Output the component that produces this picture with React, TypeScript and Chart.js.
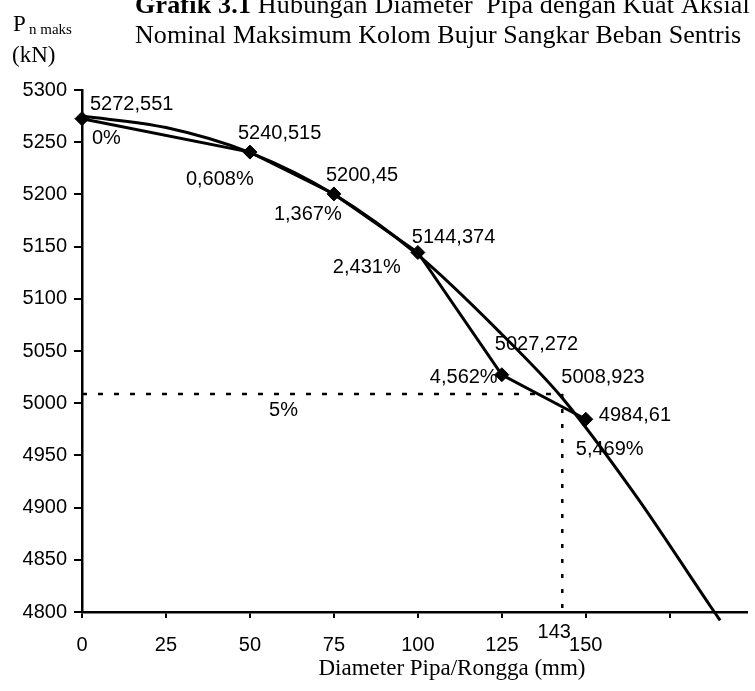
import React, { useEffect, useRef } from 'react';
import { Chart, registerables } from 'chart.js';

Chart.register(...registerables);

// ---- data ----
const diameters = [0, 50, 75, 100, 125, 150];
const pnMaks = [5272.551, 5240.515, 5200.45, 5144.374, 5027.272, 4984.61];
const valueLabels = ['5272,551', '5240,515', '5200,45', '5144,374', '5027,272', '4984,61'];
const reductionLabels = ['0%', '0,608%', '1,367%', '2,431%', '4,562%', '5,469%'];

// trend curve
const trendX = [0, 25, 50, 75, 100, 125, 143, 165, 187, 190];
const trendY = [5275, 5264, 5240, 5200, 5142, 5066, 5005, 4911, 4806, 4792];

const limitDiameter = 143;
const limitValue = 5008.923;
const limitValueLabel = '5008,923';
const limitPctLabel = '5%';
const limitPctAt = 60;
const limitDiameterLabel = '143';

const xTicks = [0, 25, 50, 75, 100, 125, 150, 175];
const xTickLabels = ['0', '25', '50', '75', '100', '125', '150', ''];
const yMin = 4800;
const yMax = 5300;
const yStep = 50;
const xMin = 0;
const xMax = 198;

// ---- layout (pixel offsets of labels from their points) ----
const valOff: [number, number][] = [
  [8, -14], [-12, -19], [-8, -18], [-6, -15], [-7, -30], [13, -4],
];
const pctOff: [number, number][] = [
  [10, 20], [-64, 27], [-60, 21], [-85, 15], [-72, 3], [-10, 30],
];

const SANS = '"Liberation Sans", Arial, sans-serif';
const SERIF = '"Liberation Serif", "Times New Roman", serif';

const textPlugin = {
  id: 'textPlugin',
  beforeDatasetsDraw(chart: any) {
    const { ctx, scales } = chart;
    const x = scales.x;
    const y = scales.y;
    ctx.save();
    ctx.fillStyle = '#000';
    ctx.font = `20px ${SANS}`;
    ctx.textAlign = 'left';
    ctx.textBaseline = 'middle';
    diameters.forEach((d, i) => {
      const px = x.getPixelForValue(d);
      const py = y.getPixelForValue(pnMaks[i]);
      ctx.fillText(valueLabels[i], px + valOff[i][0], py + valOff[i][1]);
      ctx.fillText(reductionLabels[i], px + pctOff[i][0], py + pctOff[i][1]);
    });
    const lx = x.getPixelForValue(limitDiameter);
    const ly = y.getPixelForValue(limitValue);
    ctx.fillText(limitValueLabel, lx - 1, ly - 16);
    ctx.textAlign = 'center';
    ctx.fillText(limitPctLabel, x.getPixelForValue(limitPctAt), ly + 17);
    ctx.fillText(limitDiameterLabel, lx - 8, chart.chartArea.bottom + 20);
    ctx.restore();
  },
  afterDraw(chart: any) {
    const { ctx, chartArea } = chart;
    ctx.save();
    ctx.fillStyle = '#000';
    ctx.textBaseline = 'alphabetic';
    ctx.textAlign = 'left';
    // title line 1
    ctx.letterSpacing = '0.2px';
    ctx.font = `bold 26px ${SERIF}`;
    const t1a = 'Grafik 3.1';
    ctx.fillText(t1a, 135, 13);
    const w = ctx.measureText(t1a).width;
    ctx.font = `26px ${SERIF}`;
    ctx.fillText(' Hubungan Diameter  Pipa dengan Kuat Aksial', 135 + w, 13);
    // title line 2
    ctx.letterSpacing = '0.05px';
    ctx.fillText('Nominal Maksimum Kolom Bujur Sangkar Beban Sentris', 135, 43);
    ctx.letterSpacing = '0px';
    // y axis title
    ctx.font = `23px ${SERIF}`;
    ctx.fillText('P', 13, 31);
    ctx.font = `15px ${SERIF}`;
    ctx.fillText('n maks', 29, 34);
    ctx.font = `23px ${SERIF}`;
    ctx.fillText('(kN)', 12, 62);
    // x axis title
    ctx.textAlign = 'center';
    ctx.font = `23px ${SERIF}`;
    ctx.fillText('Diameter Pipa/Rongga (mm)', 452, chartArea.bottom + 63);
    ctx.restore();
  },
};

export default function App() {
  const ref = useRef<HTMLCanvasElement>(null);
  useEffect(() => {
    const canvas = ref.current;
    if (!canvas) return;
    const chart = new Chart(canvas, {
      type: 'line',
      data: {
        datasets: [
          {
            data: trendX.map((v, i) => ({ x: v, y: trendY[i] })),
            borderColor: '#000',
            borderWidth: 3,
            pointRadius: 0,
            cubicInterpolationMode: 'monotone',
            fill: false,
            clip: false,
          } as any,
          {
            data: diameters.map((v, i) => ({ x: v, y: pnMaks[i] })),
            borderColor: '#000',
            backgroundColor: '#000',
            borderWidth: 3,
            tension: 0,
            pointStyle: 'rectRot',
            pointRadius: 7,
            pointBorderWidth: 1,
            pointBackgroundColor: '#000',
            pointBorderColor: '#000',
            fill: false,
            clip: false,
          } as any,
          {
            data: [
              { x: xMin, y: limitValue },
              { x: limitDiameter, y: limitValue },
            ],
            borderColor: '#000',
            borderWidth: 2.5,
            borderDash: [5, 11],
            pointRadius: 0,
            fill: false,
          },
          {
            data: [
              { x: limitDiameter, y: limitValue },
              { x: limitDiameter, y: yMin },
            ],
            borderColor: '#000',
            borderWidth: 2.5,
            borderDash: [4, 11],
            pointRadius: 0,
            fill: false,
          },
        ],
      },
      options: {
        animation: false,
        responsive: false,
        devicePixelRatio: 1,
        layout: { padding: { top: 90, left: 0, right: 0, bottom: 0 } },
        plugins: {
          legend: { display: false },
          tooltip: { enabled: false },
          title: { display: false },
        },
        scales: {
          x: {
            type: 'linear',
            min: xMin,
            max: xMax,
            afterBuildTicks: (s: any) => {
              s.ticks = xTicks.map((v) => ({ value: v }));
            },
            afterFit: (s: any) => {
              s.height = 79;
              s.paddingLeft = 0;
              s.paddingRight = 0;
            },
            ticks: {
              autoSkip: false,
              maxRotation: 0,
              color: '#000',
              padding: 15,
              font: { family: SANS, size: 20 },
              callback: (v: any) => {
                const k = xTicks.indexOf(Number(v));
                return k >= 0 ? xTickLabels[k] : '';
              },
            },
            grid: {
              drawOnChartArea: false,
              drawTicks: true,
              tickLength: 6,
              color: '#000',
              lineWidth: 2,
            },
            border: { display: true, color: '#000', width: 2.5 },
          },
          y: {
            type: 'linear',
            min: yMin,
            max: yMax,
            afterFit: (s: any) => {
              s.width = 82;
              s.paddingTop = 0;
              s.paddingBottom = 0;
            },
            ticks: {
              stepSize: yStep,
              color: '#000',
              padding: 7,
              font: { family: SANS, size: 20 },
              callback: (v: any) => String(v),
            },
            grid: {
              drawOnChartArea: false,
              drawTicks: true,
              tickLength: 8,
              color: '#000',
              lineWidth: 2,
            },
            border: { display: true, color: '#000', width: 2.5 },
          },
        },
      },
      plugins: [textPlugin],
    });
    return () => chart.destroy();
  }, []);
  return (
    <div style={{ position: 'absolute', left: 0, top: 0, width: 755, height: 691, background: '#fff' }}>
      <canvas ref={ref} width={755} height={691} style={{ display: 'block', width: 755, height: 691 }} />
    </div>
  );
}
